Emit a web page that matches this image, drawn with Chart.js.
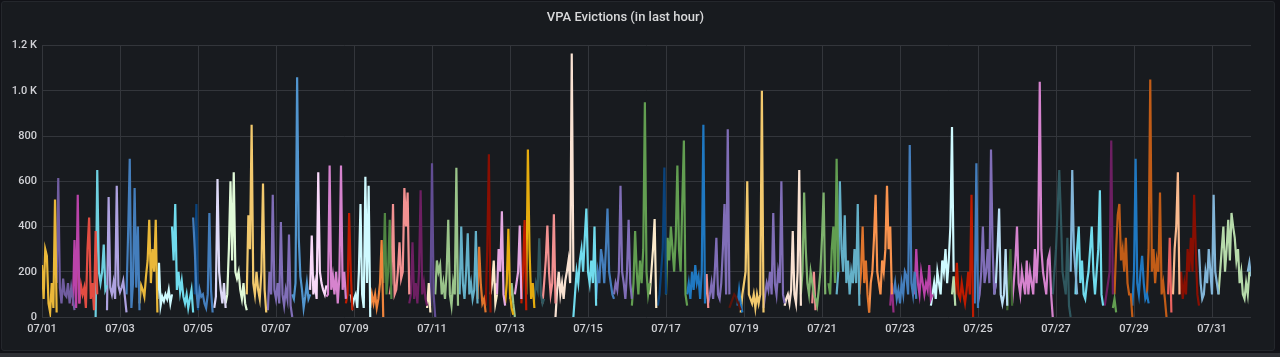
<!DOCTYPE html>
<html>
<head>
<meta charset="utf-8">
<script src="https://cdn.jsdelivr.net/npm/chart.js@4/dist/chart.umd.min.js"></script>
<style>
  html, body { margin: 0; padding: 0; width: 1280px; height: 357px; overflow: hidden; background: #111217; }
  #panel { position: absolute; left: 1px; top: 1px; width: 1272px; height: 348px; background: #181b1f; border: 1px solid #24272c; border-radius: 3px; }
  #strip { position: absolute; left: 0; top: 353px; width: 1280px; height: 4px; background: #2e3035; }
  #wrap { position: absolute; left: 0; top: 0; width: 1280px; height: 357px; }
</style>
</head>
<body>
<div id="panel"></div>
<div id="strip"></div>
<div id="wrap"><canvas id="c" width="1280" height="357"></canvas></div>
<script>
// ---- DATA (hours since 07/01 00:00, hourly samples) ----
const chartTitle = 'VPA Evictions (in last hour)';
const xTickLabels = ['07/01','07/03','07/05','07/07','07/09','07/11','07/13','07/15','07/17','07/19','07/21','07/23','07/25','07/27','07/29','07/31'];
const yTickLabels = ['0','200','400','600','800','1.0 K','1.2 K'];

const seriesStart = [0,9,19,22,33,40,52,60,71,80,93,94,106,113,126,139,154,165,175,187,190,202,210,214,226,237,239,242,257,268,273,276,279,285,288,291,295,298,302,308,316,327,341,352,363,374,379,384,397,408,410,423,428,430,444,457,467,474,484,489,503,509,522,524,537,547,560,562,574,576,586,594,597,622,633,636,654,659,660,671,680,693,696,700,712,724,742];

const seriesValues = [
  [230,80,300,270,60,20,150,40,520,20],
  [150,615,130,60,170,100,90,150,60,130,80,30],
  [50,340,40,540,60],
  [240,60,140,100,130,40,300,440,80,150,30,380,100],
  [0,650,200,150,200,320,120,140],
  [30,530,130,100,150,80,580,140,110,130,160,90,20],
  [100,370,700,40,150,570,130,400,30],
  [60,140,120,90,180,250,430,150,300,200,430,20],
  [80,240,50,90,70,100,80,120,60,100],
  [400,250,500,120,200,110,160,90,60,100,40,80,120,20],
  [440,300,120,40,120,90,100,60,40,100,460,120,20],
  [100,500,30],
  [40,90,610,200,120,60,150,40],
  [60,100,300,600,250,640,200,170,200,120,80,150,60,30],
  [100,450,300,850,150,100,200,120,80,200,590,120,20],
  [30,200,100,540,120,80,150,60,420,100,50,120,80,365,50,0],
  [100,80,150,1060,350,180,120,40,90,150,80,100],
  [120,360,100,150,80,640,200,150,120,100,140],
  [90,100,670,120,180,100,200,60,180,670,120,200,80],
  [60,100,460,200,30],
  [100,50,80,100,40,200,500,100,40,620,150,580,0],
  [40,100,60,100,40,80,150,340,0],
  [150,460,100,200,430,80],
  [100,150,500,100,120,200,330,170,200,570,400,550,100],
  [60,100,330,80,150,60,200,560,100,150,80,50],
  [40,150,20],
  [50,680,100,0],
  [100,250,200,230,100,150,80,200,430,100,50,150,100,660,50],
  [100,400,150,80,200,370,100,150,80,120,380,60],
  [80,310,150,60,80,20],
  [50,300,720,20],
  [100,150,250,60,100],
  [150,100,300,200,467,100,50],
  [60,150,390,100,40,10],
  [80,150,60,0],
  [100,150,200,404,80],
  [60,200,429,30],
  [100,741,300,80,150,40],
  [100,80,150,120,348,100,60,80],
  [60,150,250,404,200,100,150,454,60],
  [0,120,200,100,150,80,160,200,250,150,1165,200],
  [0,100,200,150,250,300,200,350,480,200,150,250,150,400,50],
  [80,200,150,300,250,150,300,480,200,150,100,80],
  [100,150,120,200,580,200,150,80,200,430,150,80],
  [50,150,380,200,100,250,150,300,950,200,100,150],
  [100,200,300,433,40],
  [50,100,200,300,661,100],
  [100,350,250,400,300,200,350,670,300,200,500,780,100,50],
  [100,150,80,200,120,230,150,180,80,200,850,60],
  [80,190,40],
  [60,100,150,80,200,350,100,80,150,300,500,100,830,100],
  [40,60,80,100,90,70,50,30],
  [50,120,60,20],
  [20,100,150,200,600,100,80,60,100,40,100,60,100,1000,20],
  [40,100,150,120,200,100,460,150,100,200,150,600,100,60],
  [50,80,100,60,120,380,100,60,200,650,50],
  [100,200,550,300,150,100,200,150,100,80,50,120,200,350,550,100],
  [60,200,30],
  [150,100,300,400,150,700,200],
  [100,200,600,300,200,450,150,250,100,200,150,300,150,500,50],
  [100,200,400,150,250,100,20],
  [20,150,200,350,540,200,150,100,250,200,300,580,300,400,100],
  [50,150,20],
  [100,150,80,120,60,150,100,200,180,100,760,150,100,200,80],
  [100,300,150,100,200,150,100,150,120,230,80,100],
  [50,100,150,80,200,150,100,250,200,300,150,250,400,840,200],
  [100,180,50],
  [100,240,100,80,150,100,60,120,200,100,540,0],
  [60,680,40],
  [60,100,200,400,150,200,300,150,740,300,100,150],
  [100,150,300,480,100,60,100,300,50],
  [30,150,300,50],
  [60,150,250,400,150,100,200,150,100,250,100,200,150,100,300,150,300,1040,300,200,150,100,250,280,100,0],
  [100,200,300,470,650,450,200,150,100,350,50,0],
  [200,650,300,200,100],
  [100,300,400,150,250,100,80,150,200,300,400,200,100,200,300,560,100,50],
  [50,100,150,200,780,100],
  [40,80,20],
  [100,300,450,500,250,300,200,350,150,100,100,0],
  [50,200,700,150,100,200,270,150,80,100,60],
  [100,300,1050,200,300,150,250,200,550,100,150,80,0],
  [100,350,20],
  [100,300,400,640,100],
  [100,200,80,150,100,300,200,350,200,540,300,100,50],
  [300,150,80,100,200,150,300,200,100,540,200,150,100],
  [100,200,300,400,200,300,430,250,460,400,350,250,300,150,200,100,80,150,100,200],
  [200,240,180]
];

// ---- STYLE ----
const seriesColors = ['#EAB839','#705DA0','#BA43A9','#E24D42','#6ED0E0','#AEA2E0','#447EBC','#EAB839','#CFFAFF','#70DBED','#447EBC','#0A437C','#DEDAF7','#E0F9D7','#F2C96D','#806EB7','#5195CE','#F9D9F9','#D683CE','#BF1B00','#CFFAFF','#EF843C','#508642','#F29191','#6D1F62','#FCEACA','#614D93','#9AC48A','#64B0C8','#E0752D','#890F02','#FCEACA','#E5A8E2','#E5AC0E','#9AC48A','#E5A8E2','#BF1B00','#E5AC0E','#2F575E','#F29191','#F9E2D2','#70DBED','#447EBC','#806EB7','#629E51','#FCEACA','#0A437C','#629E51','#1F78C1','#F29191','#806EB7','#58140C','#1F78C1','#F2C96D','#806EB7','#F9E2D2','#7EB26D','#F29191','#629E51','#64B0C8','#E0752D','#F9934E','#962D82','#447EBC','#BA43A9','#CFFAFF','#B7DBAB','#BF1B00','#447EBC','#806EB7','#BADFF4','#3F6833','#D683CE','#2F575E','#82B5D8','#70DBED','#6D1F62','#629E51','#C15C17','#1F78C1','#C15C17','#EA6460','#F9BA8F','#890F02','#82B5D8','#B7DBAB','#82B5D8'];

const HOURS_PER_TICK = 48;
const textColor = '#d0d1d5';
const gridColor = '#33363b';

const datasets = seriesValues.map((vals, i) => ({
  label: 'pod-' + (i + 1),
  data: vals.map((v, k) => ({ x: seriesStart[i] + k, y: v })),
  borderColor: seriesColors[i],
  backgroundColor: seriesColors[i],
  borderWidth: 2.2,
  pointRadius: 0,
  tension: 0,
  fill: false
}));

new Chart(document.getElementById('c'), {
  type: 'line',
  data: { datasets },
  options: {
    responsive: false,
    animation: false,
    devicePixelRatio: 1,
    layout: { padding: { left: 0, right: 29, top: 0, bottom: 0 } },
    plugins: {
      legend: { display: false },
      tooltip: { enabled: false },
      title: {
        display: true,
        text: chartTitle,
        color: '#d8d9da',
        font: { family: 'Roboto', size: 13, weight: '500' },
        padding: { top: 10, bottom: 20 }
      }
    },
    scales: {
      x: {
        type: 'linear',
        min: 0,
        max: 744,
        afterFit: s => { s.height = 40; },
        afterBuildTicks: s => { s.ticks = s.ticks.filter(t => t.value % HOURS_PER_TICK === 0); },
        ticks: {
          stepSize: HOURS_PER_TICK,
          autoSkip: false,
          maxRotation: 0,
          padding: 6,
          color: textColor,
          font: { family: 'Roboto', size: 11, weight: '500' },
          callback: v => xTickLabels[Math.round(v / HOURS_PER_TICK)] || ''
        },
        grid: { color: gridColor, drawTicks: false, lineWidth: 1 },
        border: { display: false }
      },
      y: {
        min: 0,
        max: 1200,
        afterFit: s => { s.width = 42; },
        ticks: {
          stepSize: 200,
          padding: 5,
          color: textColor,
          font: { family: 'Roboto', size: 11, weight: '500' },
          callback: v => yTickLabels[Math.round(v / 200)]
        },
        grid: { color: gridColor, drawTicks: false, lineWidth: 1 },
        border: { display: false }
      }
    }
  }
});
</script>
</body>
</html>
